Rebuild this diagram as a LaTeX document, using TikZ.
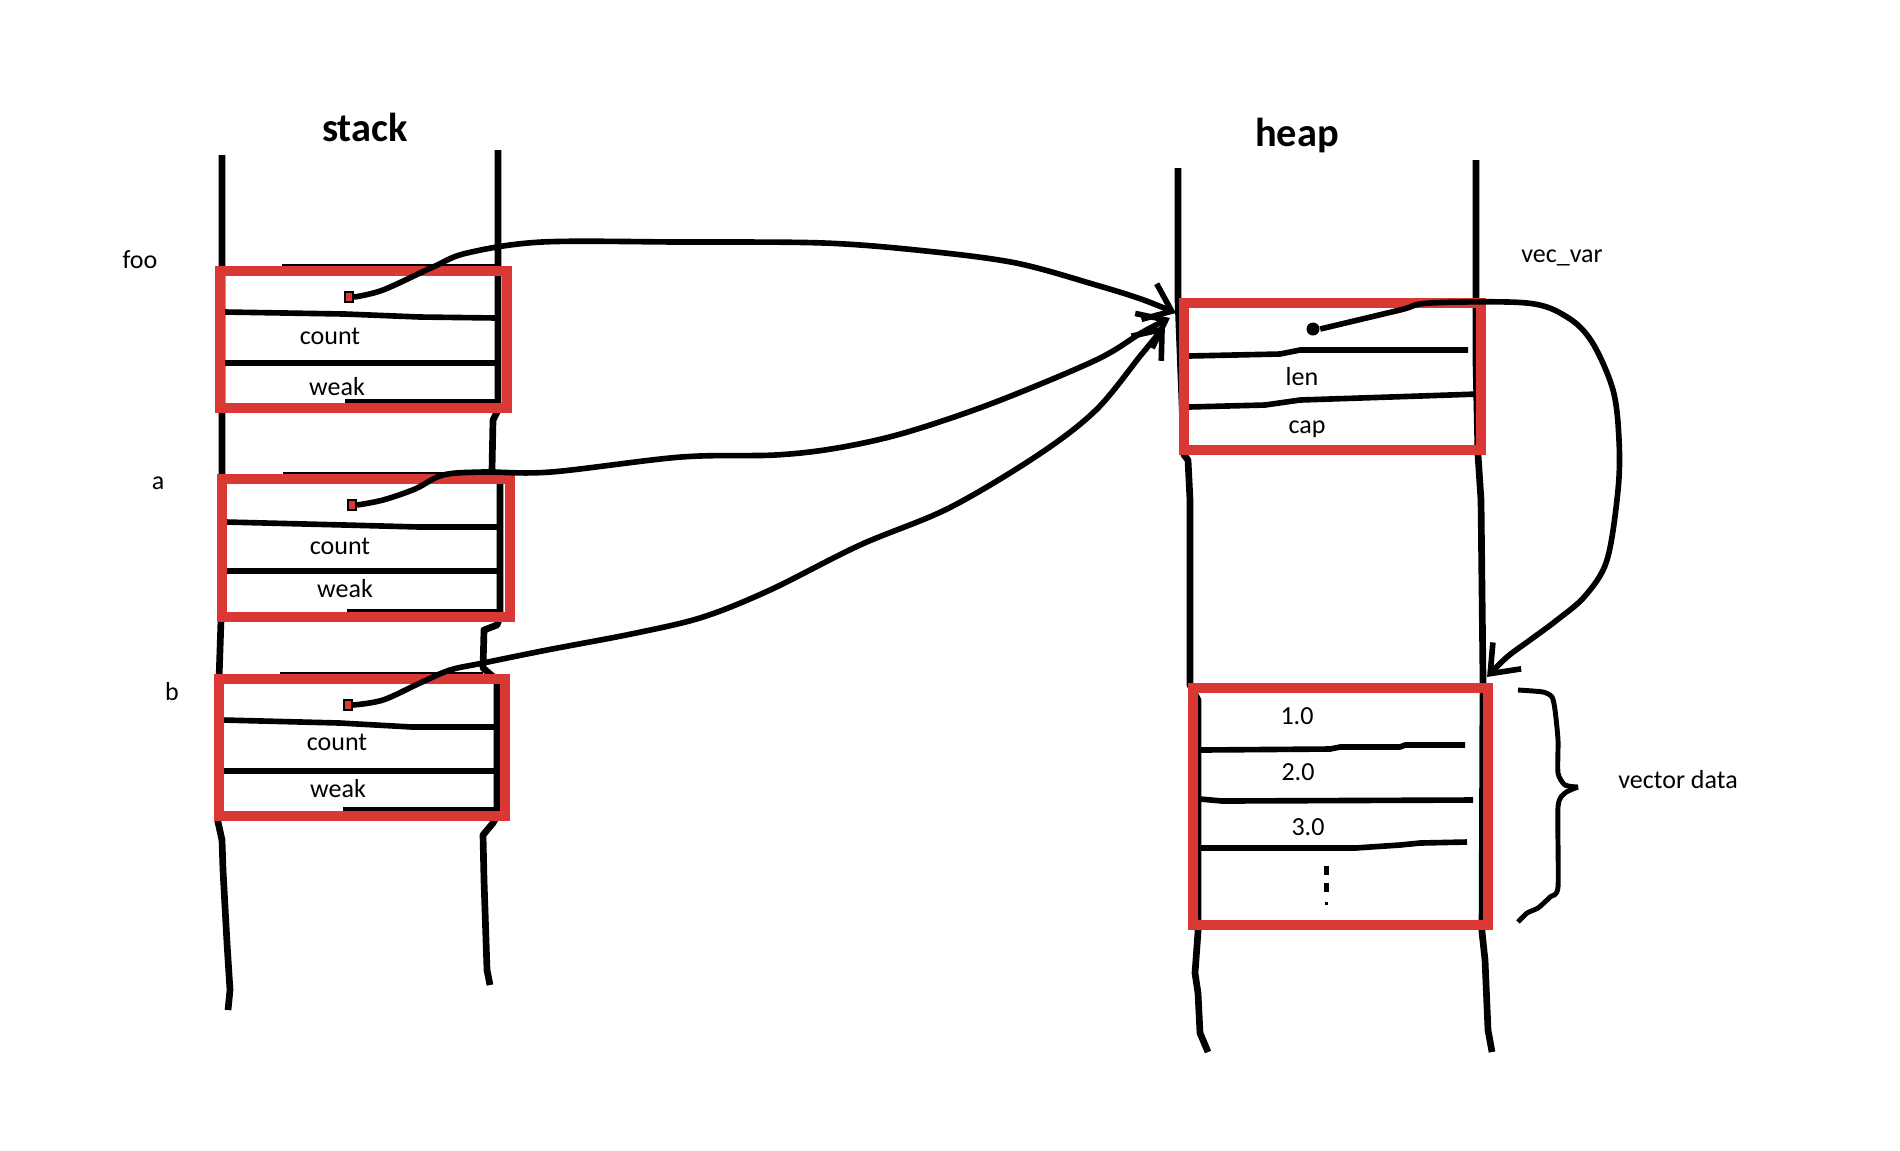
\documentclass[tikz,border=0pt]{standalone}
\usepackage{fontspec}
\setmainfont{Carlito}
\usetikzlibrary{arrows.meta,calc}
\definecolor{boxred}{RGB}{218,56,52}
\begin{document}
\begin{tikzpicture}[x=0.01cm,y=-0.01cm,
  col/.style={line width=1.9pt, line join=round},
  cell/.style={line width=1.6pt, line join=round},
  redbox/.style={draw=boxred, line width=2.8pt, inner sep=0pt, outer sep=0pt},
  lbl/.style={font=\fontsize{7.4}{8}\selectfont, inner sep=0pt},
  ttl/.style={font=\bfseries\fontsize{11.5}{13}\selectfont, inner sep=0pt},
  ptr/.style={line width=1.6pt, line join=round, -{Straight Barb[length=7pt,width=11pt,line width=1.6pt]}},
  sqdot/.style={fill=boxred, draw=black, line width=0.6pt, minimum width=0.08cm, minimum height=0.1cm, inner sep=0pt},
  hdot/.style={circle, fill=black, minimum size=0.13cm, inner sep=0pt}
]
\useasboundingbox (0,0) rectangle (1900,1150);
\fill[white] (0,0) rectangle (1900,1150);

% ---------- column lines ----------
\draw[col] (222,155) -- (222,470) -- (221,620) -- (219,680) -- (218,822) -- (222,840) -- (223,870) -- (227,943) -- (230,990) -- (228,1010);
\draw[col] (498,150) -- (498,410) -- (493,420) -- (492,470) -- (500,480) -- (500,617) -- (497,625) -- (484,630) -- (483,668) -- (497,680) -- (497,816) -- (493,823) -- (483,835) -- (484,880) -- (487,970) -- (490,985);
\draw[col] (1178,168) -- (1178,300) -- (1184,455) -- (1188,460) -- (1190,500) -- (1190,685) -- (1198,700) -- (1198,932) -- (1195,973) -- (1198,993) -- (1200,1033) -- (1208,1052);
\draw[col] (1476,160) -- (1476,363) -- (1478,455) -- (1481,500) -- (1483,680) -- (1482,932) -- (1485,960) -- (1488,1030) -- (1492,1052);

% ---------- cell lines (stack) ----------
\draw[cell] (282,267) -- (498,267);
\draw[cell] (225,312) -- (345,314) -- (420,317) -- (498,318);
\draw[cell] (225,363) -- (498,363);
\draw[cell] (345,402) -- (498,402);

\draw[cell] (283,475) -- (443,475);
\draw[cell] (226,522) -- (345,525) -- (420,527) -- (500,527);
\draw[cell] (226,571) -- (500,571);
\draw[cell] (347,612) -- (500,612);

\draw[cell] (280,675) -- (483,675);
\draw[cell] (223,720) -- (340,723) -- (412,727) -- (497,727);
\draw[cell] (223,771) -- (497,771);
\draw[cell] (343,810) -- (497,810);

% ---------- cell lines (heap) ----------
\draw[cell] (1188,356) -- (1280,354) -- (1300,350) -- (1468,350);
\draw[cell] (1188,407) -- (1265,405) -- (1300,400) -- (1420,396) -- (1478,394);
\draw[cell] (1200,750) -- (1330,749) -- (1340,747) -- (1400,747) -- (1405,745) -- (1465,745);
\draw[cell] (1200,799) -- (1222,801) -- (1473,800);
\draw[cell] (1200,848) -- (1355,848) -- (1400,845) -- (1420,843) -- (1467,842);

% dots (vertical ellipsis)
\fill (1323.5,866) rectangle (1328.5,875);
\fill (1323.5,883) rectangle (1328.5,892);
\fill (1324.5,901.5) rectangle (1327.5,904.5);

% ---------- red boxes ----------
\node[redbox, minimum width=2.87cm, minimum height=1.37cm] (foobox) at (363.5,339.5) {};
\node[redbox, minimum width=2.88cm, minimum height=1.38cm] (abox) at (366,548) {};
\node[redbox, minimum width=2.86cm, minimum height=1.37cm] (bbox) at (362,747.5) {};
\node[redbox, minimum width=2.97cm, minimum height=1.47cm] (vecbox) at (1332.5,376.5) {};
\node[redbox, minimum width=2.95cm, minimum height=2.37cm] (databox) at (1340.5,806.5) {};

% ---------- texts ----------
\node[ttl] (stackT) at (365,127) {stack};
\node[ttl] (heapT) at (1297,135) {heap};
\node[lbl] (fooL) at (140,260) {foo};
\node[lbl] (aL) at (158,483) {a};
\node[lbl] (bL) at (172,692) {b};
\node[lbl] (c1) at (330,336) {count};
\node[lbl] (w1) at (337,387) {weak};
\node[lbl] (c2) at (340,546) {count};
\node[lbl] (w2) at (345,589) {weak};
\node[lbl] (c3) at (337,742) {count};
\node[lbl] (w3) at (338,789) {weak};
\node[lbl] (vecL) at (1562,258) {vec\_var};
\node[lbl] (lenL) at (1302,377) {len};
\node[lbl] (capL) at (1307,429) {cap};
\node[lbl] (v1) at (1297,716) {1.0};
\node[lbl] (v2) at (1298,772) {2.0};
\node[lbl] (v3) at (1308,827) {3.0};
\node[lbl] (vdL) at (1678,780) {vector data};

% ---------- pointer dots ----------
\node[sqdot] (foodot) at (349,297) {};
\node[sqdot] (adot) at (352,505) {};
\node[sqdot] (bdot) at (348,705) {};
\node[hdot] (vecdot) at (1313,329) {};

\coordinate (in1) at ($(vecbox.north west)+(-8,10)$);
\coordinate (in2) at ($(vecbox.north west)+(-14,15)$);
\coordinate (in3) at ($(vecbox.north west)+(-19,23)$);
\coordinate (in4) at ($(databox.north east)+(-1,-11)$);

% ---------- pointer connectors ----------
\draw[ptr] plot[smooth, tension=0.55] coordinates {(foodot.east) (383,290) (433,267) (467,253) (542,242) (680,242) (824,243) (926,251) (1016,263) (1096,285) (1141,299) (in1)};
\draw[ptr] plot[smooth, tension=0.55] coordinates {(adot.east) (383,500) (415,489) (443,475) (483,472) (551,472) (681,457) (775,455) (837,448) (904,433) (993,403) (1096,360) (1141,333) (in2)};
\draw[ptr] plot[smooth, tension=0.55] coordinates {(bdot.east) (383,700) (420,683) (450,670) (483,663) (547,650) (636,633) (703,617) (770,590) (860,545) (949,508) (1038,455) (1096,410) (1141,355) (in3)};
\draw[ptr] plot[smooth, tension=0.55] coordinates {(vecdot.east) (1400,310) (1430,303) (1527,303) (1567,317) (1592,342) (1613,390) (1619,440) (1618,490) (1607,560) (1585,596) (1557,620) (1530,640) (1507,657) (in4)};

% ---------- brace ----------
\draw[line width=1.4pt, line join=round] plot[smooth, tension=0.4] coordinates {(1518,690) (1543,692) (1552,697) (1555,710) (1558,740) (1558,773) (1565,785) (1578,787)};
\draw[line width=1.4pt, line join=round] plot[smooth, tension=0.4] coordinates {(1578,787) (1565,793) (1558,807) (1558,887) (1550,897) (1538,908) (1527,913) (1518,922)};
\end{tikzpicture}
\end{document}
